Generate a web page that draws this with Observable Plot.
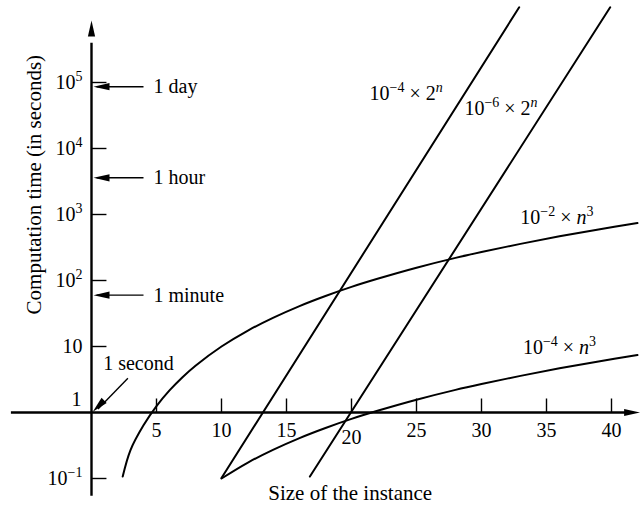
<!DOCTYPE html>
<html>
<head>
<meta charset="utf-8">
<script src="https://cdn.jsdelivr.net/npm/d3@7"></script>
<script src="https://cdn.jsdelivr.net/npm/@observablehq/plot@0.6"></script>
<style>
  html, body { margin: 0; padding: 0; background: white; }
</style>
</head>
<body>
<div id="chart"></div>
<script>
// ---- data ----
const xTicks = [5, 10, 15, 20, 25, 30, 35, 40];
const xTickLabels = ["5", "10", "15", "20", "25", "30", "35", "40"];
const yTicks = [1e-1, 10, 1e2, 1e3, 1e4, 1e5];
const yTickLabels = ["10^{−1}", "10", "10^{2}", "10^{3}", "10^{4}", "10^{5}"];
const yOneLabel = "1";

// 10^-2 × n^3
const cubicHiN = [2.4, 3, 4, 5, 6, 7, 8, 10, 12, 14, 16, 18, 20, 22, 25, 28, 30, 33, 36, 39, 42];
const cubicHiT = [0.107, 0.27, 0.64, 1.25, 2.16, 3.43, 5.12, 10, 17.3, 27.4, 41, 58.3, 80, 106, 156, 220, 270, 359, 467, 593, 741];
// 10^-4 × n^3
const cubicLoN = [10, 12, 14, 16, 18, 20, 22, 25, 28, 30, 33, 36, 39, 42];
const cubicLoT = [0.1, 0.173, 0.274, 0.41, 0.583, 0.8, 1.06, 1.56, 2.2, 2.7, 3.59, 4.67, 5.93, 7.41];
// 10^-4 × 2^n
const expHiN = [10, 32.9];
const expHiT = [0.102, 1.38e6];
// 10^-6 × 2^n
const expLoN = [16.8, 39.9];
const expLoT = [0.107, 1.38e6];

const seriesLabels = ["10^{−4} × 2^{_n}", "10^{−6} × 2^{_n}", "10^{−2} × *n*^{3}", "10^{−4} × *n*^{3}"];
const seriesLabelX = [24.2, 31.5, 35.8, 36.0];
const seriesLabelY = [6.8e4, 4.0e4, 900, 9.7];

const timeLabels = ["1 day", "1 hour", "1 minute"];
const timeValues = [86400, 3600, 60];
const secondLabel = "1 second";

const xTitle = "Size of the instance";
const yTitle = "Computation time (in seconds)";

// ---- build tables ----
const toRows = (ns, ts) => ns.map((n, i) => ({n, t: ts[i]}));
const curves = [toRows(cubicHiN, cubicHiT), toRows(cubicLoN, cubicLoT), toRows(expHiN, expHiT), toRows(expLoN, expLoT)];
const xTickRows = xTicks.map((v, i) => ({v, label: xTickLabels[i]}));
const yTickRows = yTicks.map((v, i) => ({v, label: yTickLabels[i]}));
const seriesRows = seriesLabels.map((label, i) => ({label, x: seriesLabelX[i], y: seriesLabelY[i]}));
const timeRows = timeLabels.map((label, i) => ({label, v: timeValues[i]}));

// narrow filled arrow head, tip at origin, pointing left
const arrowHead = {
  draw(ctx) {
    ctx.moveTo(0, 0);
    ctx.lineTo(16, -3.6);
    ctx.lineTo(16, 3.6);
    ctx.closePath();
  }
};

const lineMarks = curves.map(rows => Plot.line(rows, {x: "n", y: "t", stroke: "black", strokeWidth: 2, curve: "catmull-rom"}));

const chart = Plot.plot({
  width: 640,
  height: 510,
  margin: 0,
  style: {fontFamily: "'Liberation Serif', 'Times New Roman', serif", fontSize: "20px", background: "white", overflow: "visible"},
  x: {domain: [0, 40], range: [91, 611], axis: null},
  y: {type: "log", domain: [1, 1e5], range: [412, 82], axis: null},
  marks: [
    // axes
    Plot.link([{x1: -6.2, x2: 41.5}], {x1: "x1", x2: "x2", y1: () => 1, y2: () => 1, stroke: "black", strokeWidth: 2.4}),
    Plot.dot([{x: 42.2}], {x: "x", y: () => 1, symbol: arrowHead, rotate: 180, fill: "black", stroke: "none"}),
    Plot.link([{y1: 0.055, y2: 4e5}], {x1: () => 0, x2: () => 0, y1: "y1", y2: "y2", stroke: "black", strokeWidth: 2.4}),
    Plot.dot([{y: 8.7e5}], {x: () => 0, y: "y", symbol: arrowHead, rotate: 90, fill: "black", stroke: "none"}),
    // ticks
    Plot.link(xTickRows, {x1: "v", x2: "v", y1: () => 1, y2: () => 1.63, stroke: "black", strokeWidth: 1.4}),
    Plot.link(yTickRows, {x1: () => 0, x2: () => 1.15, y1: "v", y2: "v", stroke: "black", strokeWidth: 1.4}),
    // tick labels
    Plot.text(xTickRows.filter(d => d.v !== 20), {x: "v", y: () => 1, text: "label", dy: 18, fill: "black"}),
    Plot.text(xTickRows.filter(d => d.v === 20), {x: "v", y: () => 1, text: "label", dy: 25, fill: "black"}),
    Plot.text(yTickRows, {x: () => 0, y: "v", text: "label", textAnchor: "end", dx: -9, fill: "black"}),
    Plot.text([yOneLabel], {x: () => 0, y: () => 1, text: d => d, textAnchor: "end", dx: -10, dy: -13, fill: "black"}),
    // curves
    ...lineMarks,
    // curve labels
    Plot.text(seriesRows, {x: "x", y: "y", text: "label", fill: "black"}),
    // time reference arrows
    Plot.link(timeRows, {x1: () => 0.4, x2: () => 4.0, y1: "v", y2: "v", stroke: "black", strokeWidth: 1.4}),
    Plot.dot(timeRows, {x: () => 0, y: "v", dx: 2, symbol: arrowHead, fill: "black", stroke: "none"}),
    Plot.text(timeRows, {x: () => 4.0, y: "v", text: "label", textAnchor: "start", dx: 10, fill: "black"}),
    Plot.link([{x1: 2.8, y1: 3.3, x2: 0.5, y2: 1.13}], {x1: "x1", y1: "y1", x2: "x2", y2: "y2", stroke: "black", strokeWidth: 1.4}),
    Plot.dot([{x: 0.1, y: 1.03}], {x: "x", y: "y", symbol: arrowHead, rotate: -45, fill: "black", stroke: "none"}),
    Plot.text([secondLabel], {x: () => 0.9, y: () => 5.5, text: d => d, textAnchor: "start", fill: "black"}),
    // axis titles
    Plot.text([xTitle], {x: () => 19.9, y: () => 0.059, text: d => d, fill: "black", fontSize: 21}),
    Plot.text([yTitle], {x: () => -4.4, y: () => 2830, text: d => d, rotate: -90, fill: "black", fontSize: 21})
  ]
});

// turn ^{...} into superscripts, *...* into italics
function richify(el) {
  const src = el.textContent;
  if (!/[\^*]/.test(src)) return;
  const parts = src.match(/\^\{[^}]*\}|\*[^*]*\*|[^\^*]+/g) || [];
  el.textContent = "";
  const base = parseFloat(getComputedStyle(el).fontSize) || 20;
  const rise = Math.round(base * 0.42);
  let raised = false;
  for (const p of parts) {
    const ts = document.createElementNS("http://www.w3.org/2000/svg", "tspan");
    if (p.startsWith("^{")) {
      let c = p.slice(2, -1);
      if (c.startsWith("_")) { c = c.slice(1); ts.setAttribute("font-style", "italic"); }
      ts.textContent = c;
      ts.setAttribute("font-size", Math.round(base * 0.7));
      if (!raised) { ts.setAttribute("dy", -rise); raised = true; }
    } else {
      let c = p;
      if (c.startsWith("*")) { c = c.slice(1, -1); ts.setAttribute("font-style", "italic"); }
      ts.textContent = c;
      if (raised) { ts.setAttribute("dy", rise); raised = false; }
    }
    el.appendChild(ts);
  }
}
document.getElementById("chart").appendChild(chart);
d3.select(chart).selectAll("text").each(function() { richify(this); });
</script>
</body>
</html>
